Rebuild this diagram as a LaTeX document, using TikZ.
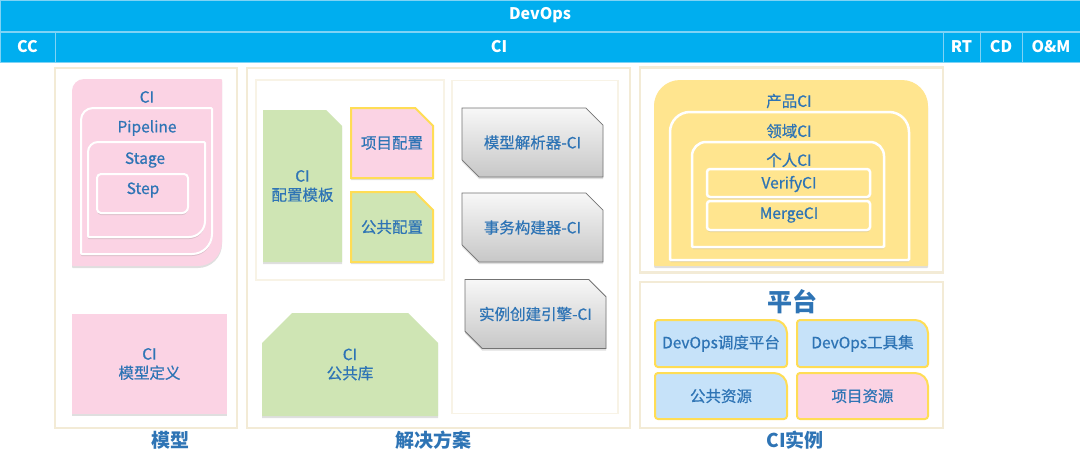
\documentclass[tikz,border=0pt]{standalone}
\usepackage{fontspec}
\setmainfont{Noto Sans CJK SC}
\newfontfamily\boxfont{Noto Sans CJK SC}[FakeBold=0.6]
\usetikzlibrary{positioning,shapes.misc,shadows}
\definecolor{devblue}{HTML}{00AEEF}
\definecolor{hdrline}{HTML}{7FD3F5}
\definecolor{inkblue}{HTML}{2E74B5}
\definecolor{cream}{HTML}{F3EBD6}
\definecolor{cipink}{HTML}{FBD3E4}
\definecolor{cigreen}{HTML}{CFE5B4}
\definecolor{ciyellow}{HTML}{FFE58F}
\definecolor{ciborder}{HTML}{FFDD55}
\definecolor{ciblue}{HTML}{C6E2F9}

% fill a box with its own radius on each corner: tl, tr, br, bl
\newcommand\cornerbox[9]{%
  \path[#1] (#2,{(#3+#5)/2}) [rounded corners=#6pt] -- (#2,#3)
    [rounded corners=#7pt] -- (#4,#3) [rounded corners=#8pt] -- (#4,#5)
    [rounded corners=#9pt] -- (#2,#5) -- cycle;}

\begin{document}
\begin{tikzpicture}[x=1pt, y=-1pt,
    hdr/.style={
        fill=devblue,
        draw=hdrline,
        line width=0.8pt,
        inner sep=0pt,
        text=white,
        font=\fontsize{16}{18}\selectfont\bfseries,
    },
    panel/.style={draw=cream, line width=2.5pt, fill=white, inner sep=0pt},
    subpanel/.style={draw=cream!60, line width=1.5pt, fill=white, inner sep=0pt},
    txt/.style={text=inkblue, font=\boxfont\fontsize{15.5}{19}\selectfont, align=center},
    caption/.style={text=inkblue, font=\fontsize{19}{22}\selectfont\bfseries},
    softshadow/.style={drop shadow={shadow xshift=0pt, shadow yshift=-2pt, opacity=0.25}},
    snip/.style={
        chamfered rectangle,
        chamfered rectangle corners=north east,
        chamfered rectangle xsep=8pt,
        chamfered rectangle ysep=8pt,
        inner sep=0pt,
        softshadow,
        txt,
    },
    engine/.style={
        chamfered rectangle,
        chamfered rectangle corners={north east, south west},
        chamfered rectangle xsep=10pt,
        chamfered rectangle ysep=10pt,
        inner sep=0pt,
        minimum width=141pt,
        minimum height=69pt,
        draw=black!55,
        line width=0.8pt,
        top color=black!3,
        bottom color=black!22,
        softshadow,
        txt,
    },
    plat/.style={draw=ciborder, line width=2pt},
]
\useasboundingbox (0,0) rectangle (1080,471);

% header
\node[hdr, minimum width=1080pt, minimum height=31pt] (devops) at (540,15.5) {DevOps};
\node[hdr, minimum width=55pt, minimum height=30pt] (cc) at (27.5,47) {CC};
\node[hdr, minimum width=888pt, minimum height=30pt] (ci) at (499,47) {CI};
\node[hdr, minimum width=37pt, minimum height=30pt] (rt) at (961.5,47) {RT};
\node[hdr, minimum width=42pt, minimum height=30pt] (cd) at (1001,47) {CD};
\node[hdr, minimum width=58pt, minimum height=30pt] (om) at (1051,47) {O\&M};

% panels
\node[panel, minimum width=182pt, minimum height=360pt] (pmodel) at (146,248) {};
\node[panel, minimum width=383pt, minimum height=360pt] (psol) at (438.5,248) {};
\node[subpanel, minimum width=188pt, minimum height=200pt] (pconf) at (350,180) {};
\node[subpanel, minimum width=166pt, minimum height=333pt] (pengine) at (535,247) {};
\node[panel, minimum width=303pt, minimum height=205pt] (pinst) at (791.5,170) {};
\node[panel, minimum width=303pt, minimum height=146pt] (pplat) at (791.5,355) {};

% model
\cornerbox{fill=cipink, softshadow}{72}{79}{222}{266}{12}{1}{24}{1}
\cornerbox{fill=cipink, draw=white, line width=2pt, softshadow}{81}{108}{212}{254}{12}{1}{20}{1}
\cornerbox{fill=cipink, draw=white, line width=2pt, softshadow}{88}{142}{205}{237}{10}{1}{16}{1}
\cornerbox{fill=cipink, draw=white, line width=2pt, softshadow}{97}{174}{188}{213}{4}{4}{6}{4}
\node[txt] (mci) at (147,97) {CI};
\node[txt] (mpipe) at (147,128) {Pipeline};
\node[txt] (mstage) at (145,160) {Stage};
\node[txt] (mstep) at (143,190) {Step};
\node[txt, fill=cipink, minimum width=155pt, minimum height=100pt, softshadow] (mdef) at (149.5,364) {CI\\模型定义};

% solution
\node[snip, fill=cigreen, minimum width=79pt, minimum height=152pt] (tmpl) at (302.5,186) {CI\\配置模板};
\node[snip, plat, fill=cipink, minimum width=82pt, minimum height=70pt, chamfered rectangle xsep=11pt, chamfered rectangle ysep=11pt] (projconf) at (392,143) {项目配置};
\node[snip, plat, fill=cigreen, minimum width=82pt, minimum height=70pt, chamfered rectangle xsep=11pt, chamfered rectangle ysep=11pt] (pubconf) at (392,227) {公共配置};
\node[engine] (parser) at (532.5,142.5) {模型解析器-CI};
\node[engine] (builder) at (532.5,227.5) {事务构建器-CI};
\node[engine] (creator) at (535.5,314) {实例创建引擎-CI};
\node[snip, fill=cigreen, minimum width=176pt, minimum height=103pt, chamfered rectangle corners={north east, north west}, chamfered rectangle xsep=15pt, chamfered rectangle ysep=15pt] (publib) at (350,364.5) {CI\\公共库};

% ci instance
\cornerbox{fill=ciyellow, softshadow}{654}{80}{928}{266}{26}{26}{1}{1}
\cornerbox{fill=ciyellow, draw=white, line width=2.5pt, softshadow}{670}{112}{909}{260}{20}{20}{1}{1}
\cornerbox{fill=ciyellow, draw=white, line width=2.5pt, softshadow}{692}{142}{884}{247}{14}{14}{1}{1}
\cornerbox{fill=ciyellow, draw=white, line width=2.5pt, softshadow}{707}{169}{870}{197}{3}{3}{3}{3}
\cornerbox{fill=ciyellow, draw=white, line width=2.5pt, softshadow}{707}{201}{870}{230}{3}{3}{3}{3}
\node[txt] (prodci) at (789,101) {产品CI};
\node[txt] (domci) at (789,131) {领域CI};
\node[txt] (selfci) at (789,160) {个人CI};
\node[txt] (verify) at (789,184) {VerifyCI};
\node[txt] (merge) at (789,215) {MergeCI};

% platform
\node[text=inkblue, font=\fontsize{25}{28}\selectfont\bfseries] (platform) at (792,302) {平台};
\cornerbox{fill=ciblue, plat}{655}{320}{787}{367}{3}{13}{3}{3}
\cornerbox{fill=ciblue, plat}{797}{320}{928}{367}{3}{13}{3}{3}
\cornerbox{fill=ciblue, plat}{655}{373}{787}{419}{3}{13}{3}{3}
\cornerbox{fill=cipink, plat}{797}{373}{928}{419}{3}{13}{3}{3}
\node[txt] (sched) at (721,343.5) {DevOps调度平台};
\node[txt] (tools) at (862.5,343.5) {DevOps工具集};
\node[txt] (pubres) at (721,396) {公共资源};
\node[txt] (projres) at (862.5,396) {项目资源};

% captions
\node[caption] (capmodel) at (170,440) {模型};
\node[caption] (capsol) at (433,440) {解决方案};
\node[caption] (capinst) at (795,440) {CI实例};
\end{tikzpicture}
\end{document}
